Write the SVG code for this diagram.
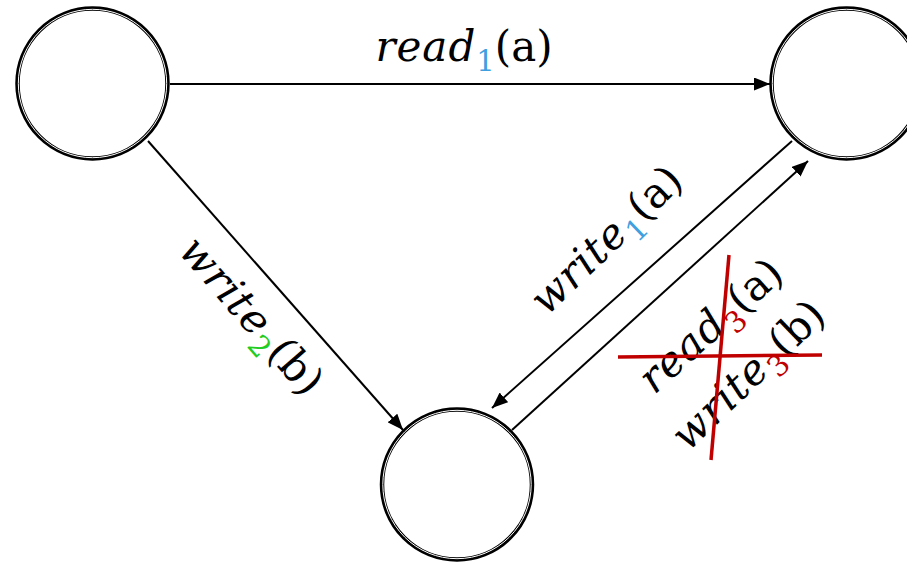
<svg xmlns="http://www.w3.org/2000/svg" width="907" height="563" viewBox="0 0 907 563">
<defs>
<marker id="ah" markerUnits="userSpaceOnUse" markerWidth="17" markerHeight="13" refX="16" refY="6.5" orient="auto">
<path d="M0,0 L16,6.5 L0,13 z" fill="#000"/>
</marker>
<style>
.ring{fill:#fff;stroke:#000;stroke-width:4.5}
.gap{fill:none;stroke:#fff;stroke-width:1}
.edge{stroke:#000;stroke-width:2;fill:none;marker-end:url(#ah)}
.lbl{font-family:"DejaVu Serif","Liberation Serif",serif;font-size:42px;fill:#000}
.it{font-style:italic;letter-spacing:1px}
.sub{font-size:29px}
.cross{stroke:#C00000;stroke-width:3.5;fill:none}
</style>
</defs>
<rect width="907" height="563" fill="#fff"/>
<g id="connectors">
<line class="edge" x1="170" y1="84" x2="770" y2="84"/>
<line class="edge" x1="148" y1="141" x2="403" y2="430"/>
<line class="edge" x1="792" y1="141" x2="492" y2="408"/>
<line class="edge" x1="512" y1="430" x2="808" y2="161"/>
</g>
<g id="nodeA">
<circle class="ring" cx="92.5" cy="83.5" r="75"/>
<circle class="gap" cx="92.5" cy="83.5" r="74.2"/>
</g>
<g id="nodeB">
<circle class="ring" cx="846.5" cy="83.5" r="75"/>
<circle class="gap" cx="846.5" cy="83.5" r="74.2"/>
</g>
<g id="nodeC">
<circle class="ring" cx="457" cy="484.5" r="75"/>
<circle class="gap" cx="457" cy="484.5" r="74.2"/>
</g>
<g id="labels">
<text class="lbl" x="464" y="61" text-anchor="middle"><tspan class="it">read</tspan><tspan class="sub" dy="10" fill="#3FA0E0">1</tspan><tspan dy="-10">(a)</tspan></text>
<text class="lbl" text-anchor="middle" transform="translate(241,325) rotate(49)"><tspan class="it">write</tspan><tspan class="sub" dy="10" fill="#22CC22">2</tspan><tspan dy="-10">(b)</tspan></text>
<text class="lbl" text-anchor="middle" transform="translate(616,250) rotate(-44)"><tspan class="it">write</tspan><tspan class="sub" dy="10" fill="#3FA0E0">1</tspan><tspan dy="-10">(a)</tspan></text>
<text class="lbl" text-anchor="middle" transform="translate(720,336) rotate(-42)"><tspan class="it">read</tspan><tspan class="sub" dy="10" fill="#C00000">3</tspan><tspan dy="-10">(a)</tspan></text>
<text class="lbl" text-anchor="middle" transform="translate(758,385) rotate(-44)"><tspan class="it">write</tspan><tspan class="sub" dy="10" fill="#C00000">3</tspan><tspan dy="-10">(b)</tspan></text>
</g>
<g id="strike">
<line class="cross" x1="618" y1="357" x2="822" y2="355"/>
<line class="cross" x1="729" y1="255" x2="711" y2="460"/>
</g>
</svg>
